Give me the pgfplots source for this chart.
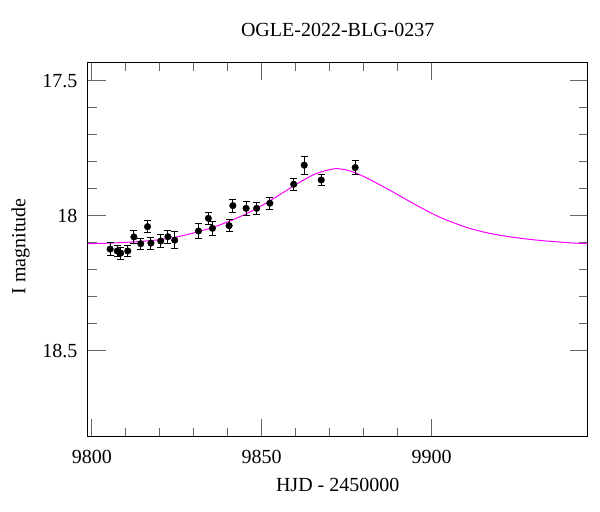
\documentclass[border=0pt]{standalone}
\usepackage{fontspec}
\setmainfont{Liberation Serif}
\usepackage{pgfplots}
\pgfplotsset{compat=1.18}
\definecolor{modelmag}{RGB}{255,0,255}
\newcommand{\lblfont}{\fontsize{20bp}{24bp}\selectfont}
\begin{document}
\lblfont
\begin{tikzpicture}
\useasboundingbox (-87.7bp,-75.3bp) rectangle (512.3bp,436.7bp);
\begin{axis}[
  at={(0,0)}, anchor=south west,
  scale only axis, width=500bp, height=374.4bp,
  xmin=9798.8, xmax=9945.9,
  ymin=17.432, ymax=18.819, y dir=reverse,
  xtick={9800,9850,9900}, ytick={17.5,18,18.5},
  minor x tick num=4, minor y tick num=4,
  major tick length=18bp, minor tick length=9bp,
  tick style={black!60, line width=0.9bp},
  axis line style={line width=1bp},
  /pgf/number format/assume math mode=true,
  /pgf/number format/.cd, 1000 sep={}, /pgfplots/.cd,
  tick label style={font=\lblfont},
  xticklabel style={inner sep=0pt, anchor=north, yshift=-13bp},
  yticklabel style={inner sep=0pt, anchor=east, xshift=-10bp},
  title={OGLE-2022-BLG-0237},
  title style={at={(0.5,1)}, anchor=base, yshift=20bp, inner sep=0pt, font=\lblfont},
  xlabel={HJD - 2450000},
  xlabel style={at={(0.5,0)}, anchor=base, yshift=-55bp, inner sep=0pt, font=\lblfont},
  ylabel={I magnitude},
  ylabel style={at={(0,0.5)}, anchor=center, rotate=0, yshift=67bp, xshift=3bp, inner sep=0pt, font=\lblfont},
]
\addplot[modelmag, line width=1bp, smooth, no markers] coordinates {
(9798.8,18.104) (9805,18.102) (9810,18.099) (9815,18.095) (9820,18.089)
(9825,18.079) (9830,18.064) (9835,18.046) (9840,18.023) (9845,17.996)
(9850,17.963) (9855,17.925) (9860,17.885) (9865,17.850) (9868,17.836)
(9871.7,17.826) (9875,17.831) (9877.4,17.841) (9880,17.855) (9882.8,17.873)
(9887.7,17.906) (9892.6,17.941) (9897.5,17.975) (9902.4,18.006) (9907.4,18.031)
(9912.2,18.051) (9917.2,18.066) (9922.1,18.077) (9926.9,18.085) (9931.9,18.092)
(9936.8,18.097) (9941,18.101) (9945.9,18.104)
};
\addplot[black, only marks, mark=*, mark size=3.3bp,
  error bars/.cd, y dir=both, y explicit,
  error bar style={line width=0.9bp, black},
  error mark options={rotate=90, mark size=3.5bp, line width=0.9bp, black}]
  table[x=x, y=y, y error=e] {
x y e
9805.4 18.124 0.023
9807.5 18.131 0.021
9808.5 18.139 0.022
9810.6 18.131 0.022
9812.4 18.079 0.023
9814.4 18.104 0.020
9816.4 18.041 0.023
9817.4 18.102 0.023
9820.3 18.094 0.023
9822.4 18.078 0.024
9824.4 18.091 0.031
9831.4 18.057 0.029
9834.3 18.010 0.022
9835.5 18.047 0.025
9840.4 18.037 0.023
9841.5 17.963 0.024
9845.4 17.973 0.026
9848.5 17.973 0.022
9852.4 17.954 0.023
9859.4 17.884 0.023
9862.5 17.813 0.034
9867.5 17.868 0.022
9877.5 17.822 0.025
};
\end{axis}
\end{tikzpicture}
\end{document}
